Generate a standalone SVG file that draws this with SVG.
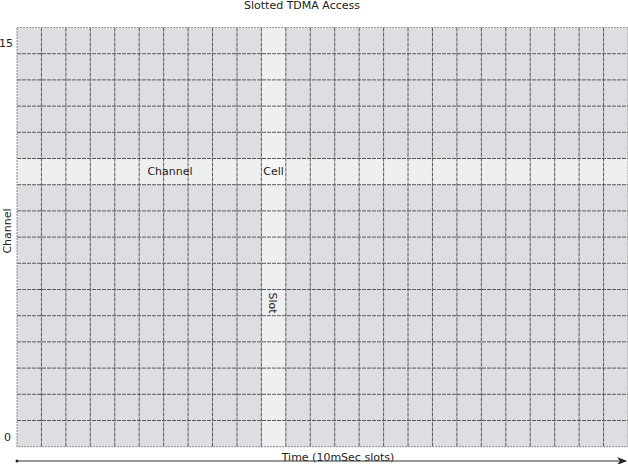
<svg xmlns="http://www.w3.org/2000/svg" width="628" height="464" viewBox="0 0 628 464">
<style>
text{font-family:"DejaVu Sans","Liberation Sans",sans-serif;font-size:11px;fill:#222}
.grid{stroke:#5a5a5a;stroke-width:1;stroke-dasharray:4,1;fill:none}
.border{stroke:#9a9a9a;stroke-width:1.2;stroke-dasharray:2,1;fill:none}
</style>
<defs>
<marker id="ah" markerWidth="10" markerHeight="8" refX="9" refY="4" orient="auto" markerUnits="userSpaceOnUse">
<path d="M0,0 L10,4 L0,8 L3,4 Z" fill="#222"/>
</marker>
<marker id="dot" markerWidth="4" markerHeight="4" refX="2" refY="2" markerUnits="userSpaceOnUse">
<circle cx="2" cy="2" r="1.5" fill="#222"/>
</marker>
</defs>
<rect width="628" height="464" fill="#fff"/>
<text x="302" y="9" text-anchor="middle">Slotted TDMA Access</text>
<g id="grid">
<rect x="17" y="27.5" width="611" height="419.2" fill="#dcdee2"/>
<rect id="row" x="17" y="158.5" width="611" height="26.2" fill="#eeeff1"/>
<rect id="column" x="261.4" y="27.5" width="24.44" height="419.2" fill="#eeeff1"/>
<rect id="cell" x="261.4" y="158.5" width="24.44" height="26.2" fill="#f7f7f8"/>
<path class="grid" d="M41.44,27.5V446.7M65.88,27.5V446.7M90.32,27.5V446.7M114.76,27.5V446.7M139.2,27.5V446.7M163.64,27.5V446.7M188.08,27.5V446.7M212.52,27.5V446.7M236.96,27.5V446.7M261.4,27.5V446.7M285.84,27.5V446.7M310.28,27.5V446.7M334.72,27.5V446.7M359.16,27.5V446.7M383.6,27.5V446.7M408.04,27.5V446.7M432.48,27.5V446.7M456.92,27.5V446.7M481.36,27.5V446.7M505.8,27.5V446.7M530.24,27.5V446.7M554.68,27.5V446.7M579.12,27.5V446.7M603.56,27.5V446.7
M17,53.7H628M17,79.9H628M17,106.1H628M17,132.3H628M17,158.5H628M17,184.7H628M17,210.9H628M17,237.1H628M17,263.3H628M17,289.5H628M17,315.7H628M17,341.9H628M17,368.1H628M17,394.3H628M17,420.5H628"/>
<rect class="border" x="17" y="27.5" width="611" height="419.2"/>
</g>
<g id="labels">
<text x="170" y="175" text-anchor="middle">Channel</text>
<text x="273.6" y="175" text-anchor="middle">Cell</text>
<text transform="translate(268.5,303) rotate(90)" text-anchor="middle">Slot</text>
<text x="13" y="47" text-anchor="end">15</text>
<text x="11" y="441" text-anchor="end">0</text>
<text transform="translate(11,231) rotate(-90)" text-anchor="middle">Channel</text>
<text x="338" y="461" text-anchor="middle">Time (10mSec slots)</text>
</g>
<g id="connectors">
<line x1="17" y1="461" x2="626" y2="461" stroke="#333" stroke-width="1" marker-start="url(#dot)" marker-end="url(#ah)"/>
</g>
</svg>
